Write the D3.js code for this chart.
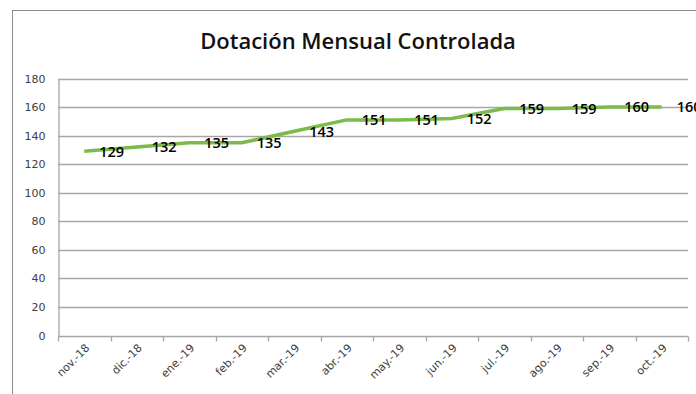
<!DOCTYPE html>
<html>
<head>
<meta charset="utf-8">
<script src="https://cdn.jsdelivr.net/npm/d3@7/dist/d3.min.js"></script>
<style>
  html, body { margin: 0; padding: 0; background: #fff; }
  svg { display: block; }
</style>
</head>
<body>
<svg id="chart" width="696" height="394"></svg>
<script>
// Monthly controlled headcount, Nov 2018 – Oct 2019
const months = ["nov.-18", "dic.-18", "ene.-19", "feb.-19", "mar.-19", "abr.-19",
                "may.-19", "jun.-19", "jul.-19", "ago.-19", "sep.-19", "oct.-19"];
const dotacion = [129, 132, 135, 135, 143, 151, 151, 152, 159, 159, 160, 160];
const yTicks = [0, 20, 40, 60, 80, 100, 120, 140, 160, 180];
const chartTitle = "Dotación Mensual Controlada";

const svg = d3.select("#chart");
const W = 696, H = 394;
const m = { left: 58, right: 8, top: 78.5, bottom: 58.5 };

// outer chart frame
svg.append("rect")
  .attr("x", 12.5).attr("y", 10.5)
  .attr("width", W).attr("height", H)
  .attr("fill", "#fff").attr("stroke", "#8c8c8c").attr("stroke-width", 1);

const x = d3.scaleBand().domain(months).range([m.left, W - m.right]).padding(0);
const y = d3.scaleLinear().domain([0, 180]).range([H - m.bottom, m.top]);

// title
svg.append("text")
  .attr("x", 358).attr("y", 49)
  .attr("text-anchor", "middle")
  .attr("font-family", "'Open Sans', sans-serif")
  .attr("font-weight", 600)
  .attr("font-size", 22)
  .attr("fill", "#111")
  .text(chartTitle);

// horizontal gridlines
svg.append("g")
  .selectAll("line")
  .data(yTicks.filter(d => d > 0))
  .join("line")
  .attr("x1", m.left).attr("x2", W - m.right)
  .attr("y1", d => Math.round(y(d)) + 0.5).attr("y2", d => Math.round(y(d)) + 0.5)
  .attr("stroke", "#a6a6a6").attr("stroke-width", 1.3);

// y axis
const yAxis = svg.append("g")
  .attr("transform", `translate(${m.left + 0.5},0)`)
  .call(d3.axisLeft(y).tickValues(yTicks).tickSize(0).tickPadding(13));
yAxis.select(".domain").attr("stroke", "#a6a6a6").attr("stroke-width", 1.3);
yAxis.selectAll("text")
  .attr("font-family", "'DejaVu Sans', sans-serif")
  .attr("font-size", 11)
  .attr("fill", "#404040");

// x axis with ticks at category boundaries
const xAxisY = Math.round(y(0)) + 0.5;
const xg = svg.append("g").attr("transform", `translate(0,${xAxisY})`);
xg.append("line")
  .attr("x1", m.left).attr("x2", W - m.right)
  .attr("stroke", "#a6a6a6").attr("stroke-width", 1.3);
const bounds = months.map(d => x(d)).concat([x(months[months.length - 1]) + x.bandwidth()]);
xg.selectAll("line.tk")
  .data(bounds)
  .join("line")
  .attr("class", "tk")
  .attr("x1", d => Math.round(d) + 0.5).attr("x2", d => Math.round(d) + 0.5)
  .attr("y1", 0).attr("y2", 5)
  .attr("stroke", "#a6a6a6").attr("stroke-width", 1.3);
xg.selectAll("text")
  .data(months)
  .join("text")
  .attr("transform", d => `translate(${x(d) + x.bandwidth() / 2 + 6},${12}) rotate(-45)`)
  .attr("text-anchor", "end")
  .attr("font-family", "'DejaVu Sans', sans-serif")
  .attr("font-size", 11)
  .attr("fill", "#404040")
  .text(d => d);

// line
const cx = d => x(d) + x.bandwidth() / 2;
const line = d3.line()
  .x((d, i) => cx(months[i]))
  .y(d => y(d));
svg.append("path")
  .datum(dotacion)
  .attr("d", line)
  .attr("fill", "none")
  .attr("stroke", "#7cbb4a")
  .attr("stroke-width", 3.5)
  .attr("stroke-linejoin", "round");

// data labels to the right of each point
svg.append("g")
  .selectAll("text")
  .data(dotacion)
  .join("text")
  .attr("x", (d, i) => cx(months[i]) + 15)
  .attr("y", d => y(d))
  .attr("dy", "0.36em")
  .attr("font-family", "'Open Sans', sans-serif")
  .attr("font-weight", 600)
  .attr("font-size", 14.5)
  .attr("fill", "#000")
  .text(d => d);
</script>
</body>
</html>
